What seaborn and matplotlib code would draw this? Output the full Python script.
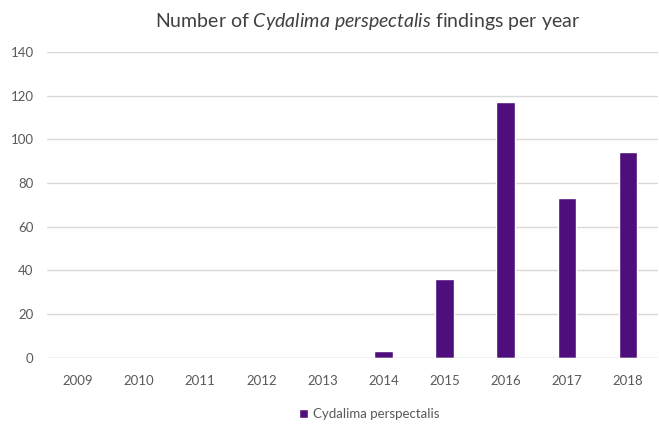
import pandas as pd
import numpy as np
import matplotlib.pyplot as plt
import seaborn as sns

years = ['2009', '2010', '2011', '2012', '2013', '2014', '2015', '2016', '2017', '2018']
findings = [0, 0, 0, 0, 0, 3, 36, 117, 73, 94]
series_name = 'Cydalima perspectalis'

sns.set_style('white')
plt.rcParams['font.family'] = ['Lato', 'DejaVu Sans']
plt.rcParams['mathtext.fontset'] = 'custom'
plt.rcParams['mathtext.rm'] = 'Lato'
plt.rcParams['mathtext.it'] = 'Lato:italic'

df = pd.DataFrame({'year': years, 'count': findings, 'species': series_name})

fig = plt.figure(figsize=(6.59, 4.25), dpi=100)
ax = fig.add_axes([0.072, 0.158, 0.927, 0.72])

sns.barplot(data=df, x='year', y='count', hue='species', palette=['#4E0F7C'],
            width=0.3, ax=ax, saturation=1)

ax.set_ylim(0, 140)
ax.set_yticks(range(0, 141, 20))
ax.yaxis.grid(True, color='#d9d9d9', linewidth=1)
ax.set_axisbelow(True)
for s in ax.spines.values():
    s.set_visible(False)
ax.axhline(0, color='#d9d9d9', linewidth=1)
ax.set_xlabel('')
ax.set_ylabel('')
ax.tick_params(axis='both', length=0, labelsize=9.5, labelcolor='#595959')
ax.tick_params(axis='x', pad=12)
ax.tick_params(axis='y', pad=10)

fig.text(0.558, 0.95, r'Number of $\it{Cydalima\ perspectalis}$ findings per year',
         ha='center', va='center', fontsize=14, color='#404040')

ax.legend(loc='center', frameon=False, fontsize=9.5, labelcolor='#595959',
          handlelength=0.7, handleheight=0.7, handletextpad=0.4)
ax.get_legend().set_bbox_to_anchor((0.56, 0.025), transform=fig.transFigure)

fig.savefig('out.png', dpi=100)
